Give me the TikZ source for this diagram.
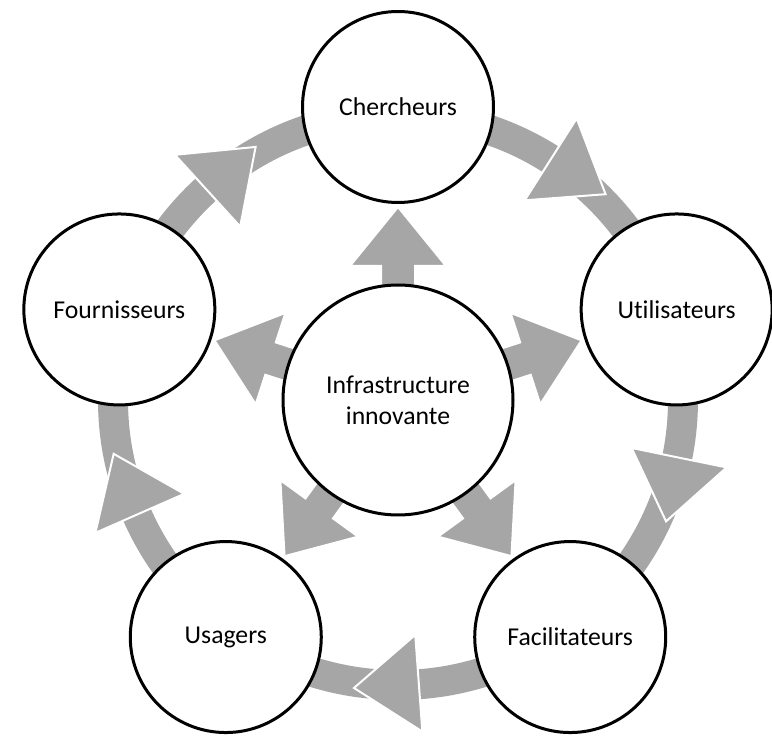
\documentclass[tikz,border=0pt]{standalone}
\usepackage{fontspec}
\setmainfont[Ligatures=NoCommon]{Carlito}
\usetikzlibrary{calc,backgrounds}
\definecolor{arrowgray}{RGB}{166,166,166}
\begin{document}
\begin{tikzpicture}[x=1pt,y=1pt,
  person/.style={circle, draw=black, line width=3pt, fill=white, minimum size=191pt, inner sep=0pt,
                 font=\fontsize{25.7}{31}\selectfont, align=center},
  hub/.style={person, minimum size=230pt},
  ringline/.style={draw=arrowgray, line width=30pt},
  headshape/.style={fill=arrowgray, draw=white, line width=2pt, line join=miter},
]
\useasboundingbox (0,0) rectangle (772,740);
\node[hub] (hub) at (398,340) {Infrastructure\\innovante};
\node[person] (cher) at ($(hub.center)+(90:293)$) {Chercheurs};
\node[person] (util) at ($(hub.center)+(18:293)$) {Utilisateurs};
\node[person] (faci) at ($(hub.center)+(-54:293)$) {Facilitateurs};
\node[person] (usag) at ($(hub.center)+(-126:293)$) {Usagers};
\node[person] (four) at ($(hub.center)+(162:293)$) {Fournisseurs};
\begin{scope}[on background layer]
  \fill[white] (0,0) rectangle (772,740);
  % outer ring
  \draw[ringline] (hub.center) circle (285);
  % outer arrow heads (clockwise)
  \foreach \t/\r in {57.6/285,-11.6/287,-85.8/284,-156.3/282,132.3/283} {
    \path[headshape] ($(hub.center)+(\t:\r-48.5)$) -- ($(hub.center)+(\t:\r+48.5)$)
      -- ($(hub.center)+(\t:\r)+(\t-90:65)$) -- cycle;
  }
  % inner arrows from the hub to each node
  \foreach \p/\n in {90/cher,18/util,-54/faci,-126/usag,162/four} {
    \path[headshape] ($(hub.center)+(\p:100)+(\p+90:17)$) -- ($(hub.center)+(\p:134)+(\p+90:17)$)
      -- ($(hub.center)+(\p:134)+(\p+90:48)$) -- ($(hub.center)!193pt!(\n.center)$)
      -- ($(hub.center)+(\p:134)+(\p-90:48)$) -- ($(hub.center)+(\p:134)+(\p-90:17)$)
      -- ($(hub.center)+(\p:100)+(\p-90:17)$) -- cycle;
  }
\end{scope}
\end{tikzpicture}
\end{document}
